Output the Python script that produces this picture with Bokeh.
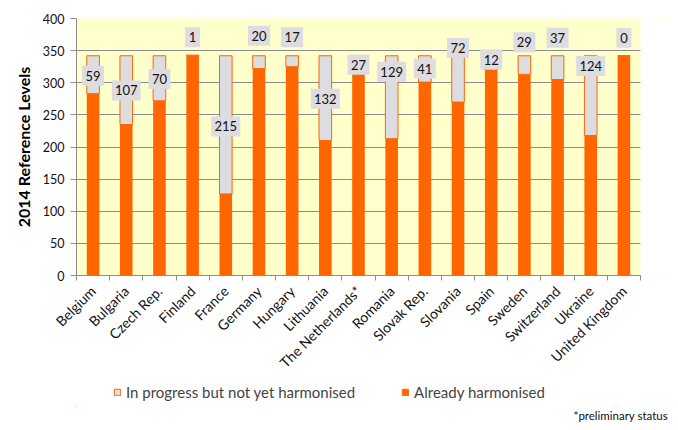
import math
from bokeh.plotting import figure
from bokeh.layouts import column
from bokeh.models import (Range1d, FixedTicker, CustomJSTickFormatter, ColumnDataSource,
                          Legend, LegendItem, LabelSet, Title, BoxAnnotation)
from bokeh.core.properties import value
from bokeh.embed import file_html
from bokeh.resources import INLINE

countries = ["Belgium", "Bulgaria", "Czech Rep.", "Finland", "France", "Germany", "Hungary",
             "Lithuania", "The Netherlands*", "Romania", "Slovak Rep.", "Slovania", "Spain",
             "Sweden", "Switzerland", "Ukraine", "United Kingdom"]
already = [283, 235, 272, 342, 127, 322, 325, 210, 315, 213, 301, 270, 320, 313, 305, 218, 342]
in_progress = [59, 107, 70, 1, 215, 20, 17, 132, 27, 129, 41, 72, 12, 29, 37, 124, 0]
# vertical placement of the value labels (data units, as placed in the original chart)
label_y = [311, 288, 306, 371, 232, 373, 371, 275, 328, 317, 322, 354, 336, 363, 370, 326, 370]
series_names = ["In progress but not yet harmonised", "Already harmonised"]
footnote = "*preliminary status"

FONT = "Lato"
ORANGE = "#FF6600"
GREY = "#DDDCE0"

n = len(countries)
xs = [i + 0.5 for i in range(n)]
src = ColumnDataSource(dict(
    x=xs, already=already, in_progress=in_progress,
    top_all=[a + b for a, b in zip(already, in_progress)],
    ly=label_y, txt=[str(v) for v in in_progress],
    bw=[8 + 7 * len(str(v)) for v in in_progress],
))

# plot area spans 564 px for the categories; the frame runs 30 px further to the
# right (blank) so that the footnote strip below can reach the right edge
cat_px = 564.0
frame_px = 594.0
p = figure(width=670, height=379, output_backend="svg", toolbar_location=None,
           x_range=Range1d(0, n * frame_px / cat_px), y_range=Range1d(0, 400),
           min_border_left=76, min_border_right=0, min_border_top=18, min_border_bottom=104)
p.background_fill_color = "#FFFFCC"
p.border_fill_color = "white"
p.outline_line_color = None

p.vbar(x="x", bottom="already", top="top_all", width=0.38, source=src,
       fill_color=GREY, line_color=ORANGE, line_width=1)
p.vbar(x="x", bottom=0, top="already", width=0.38, source=src,
       fill_color=ORANGE, line_color=None)

# value label boxes
p.rect(x="x", y="ly", width="bw", height=20, width_units="screen", height_units="screen",
       source=src, fill_color=GREY, line_color=None)
labels = LabelSet(x="x", y="ly", text="txt", source=src, text_align="center",
                  text_baseline="middle", text_font=value(FONT), text_font_size=value("13px"),
                  text_color="#111111")
p.add_layout(labels)

# blank strip right of the last category
p.add_layout(BoxAnnotation(left=n, fill_color="white", fill_alpha=1, line_color=None,
                           level="underlay"))

# grid
p.xgrid.grid_line_color = None
p.ygrid.grid_line_color = "#8C8C8C"
p.ygrid.grid_line_width = 1.2
p.ygrid.ticker = FixedTicker(ticks=list(range(0, 401, 50)))

# y axis
p.yaxis.ticker = FixedTicker(ticks=list(range(0, 401, 50)))
p.yaxis.axis_label = "2014 Reference Levels"
p.yaxis.axis_label_text_font = FONT
p.yaxis.axis_label_text_font_style = "bold"
p.yaxis.axis_label_text_font_size = "16px"
p.yaxis.axis_label_text_color = "black"
p.yaxis.axis_label_standoff = 7
p.yaxis.major_label_text_font = FONT
p.yaxis.major_label_text_font_size = "12.5px"
p.yaxis.major_label_text_color = "#111111"
p.yaxis.axis_line_color = "#8C8C8C"
p.yaxis.major_tick_line_color = "#8C8C8C"
p.yaxis.major_tick_out = 6
p.yaxis.major_tick_in = 0
p.yaxis.minor_tick_line_color = None
p.yaxis.major_label_standoff = 6

# x axis: labels at centres, ticks at category boundaries
p.xaxis.ticker = FixedTicker(ticks=xs, minor_ticks=list(range(n + 1)))
p.xaxis.formatter = CustomJSTickFormatter(args=dict(names=countries),
                                          code="return names[Math.floor(tick)];")
p.xaxis.bounds = (0, n)
p.xaxis.major_label_orientation = math.pi / 4
p.xaxis.major_label_text_font = FONT
p.xaxis.major_label_text_font_size = "14px"
p.xaxis.major_label_text_color = "#111111"
p.xaxis.major_label_standoff = 7
p.xaxis.axis_line_color = "#8C8C8C"
p.xaxis.major_tick_line_color = None
p.xaxis.minor_tick_line_color = "#8C8C8C"
p.xaxis.minor_tick_out = 5
p.xaxis.minor_tick_in = 0

# bottom strip: legend and footnote
q = figure(width=670, height=43, output_backend="svg", toolbar_location=None,
           x_range=Range1d(0, frame_px), y_range=Range1d(0, 30),
           x_axis_location=None, y_axis_location=None, min_border=0)
q.grid.visible = False
q.outline_line_color = None
q.background_fill_color = "white"
dummy = ColumnDataSource(dict(x=[-1e6], b=[-1e6], t=[-1e6 + 1]))
g1 = q.vbar(x="x", bottom="b", top="t", width=1, source=dummy,
            fill_color=GREY, line_color=ORANGE, line_width=1)
g2 = q.vbar(x="x", bottom="b", top="t", width=1, source=dummy,
            fill_color=ORANGE, line_color=ORANGE, line_width=1)
legend = Legend(items=[LegendItem(label=series_names[0], renderers=[g1]),
                       LegendItem(label=series_names[1], renderers=[g2])],
                orientation="horizontal", location=(37, 4),
                glyph_width=8, glyph_height=8, label_standoff=5, spacing=46,
                padding=0, margin=0, border_line_color=None, background_fill_alpha=0,
                label_text_font=FONT, label_text_font_size="15px", label_height=20)
q.add_layout(legend)
q.add_layout(Title(text=footnote, align="left", offset=497, standoff=1,
                   text_font=FONT, text_font_size="11.5px", text_font_style="normal",
                   text_color="#111111"), "below")

layout = column(p, q, spacing=0)
open("out.html", "w").write(file_html(layout, INLINE))
